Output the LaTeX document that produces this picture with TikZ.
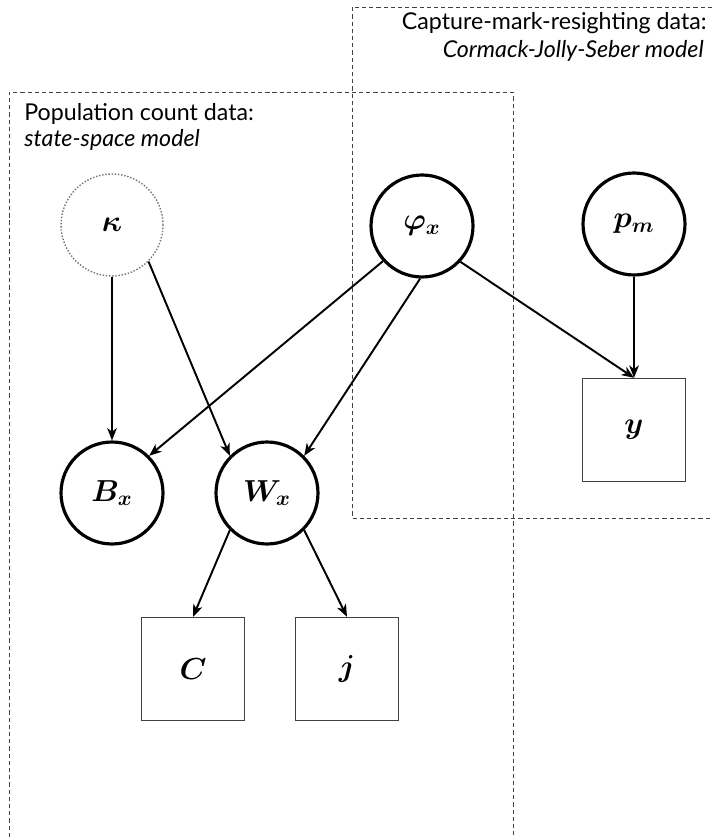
\documentclass[tikz,border=0pt]{standalone}
\usepackage{amsmath, amssymb}
\usepackage{fontspec}
\setmainfont{Lato}
\usepackage{tikz}
\usetikzlibrary{arrows.meta, positioning}

\begin{document}
\begin{tikzpicture}[x=0.02cm, y=-0.02cm, >={Stealth[length=7pt, width=5.5pt, inset=2pt]},
    bien/.style={circle, draw, line width=1.8pt, minimum size=2.04cm, inner sep=0pt,
        font=\fontsize{17.5}{20}\selectfont},
    quansat/.style={rectangle, draw=black!75, line width=0.8pt, minimum size=2.06cm, inner sep=0pt,
        font=\fontsize{17.5}{20}\selectfont},
    khung/.style={draw=black!75, line width=0.55pt, dash pattern=on 2.4pt off 1.7pt},
    nhan/.style={inner sep=0pt, font=\fontsize{13.2}{15}\selectfont},
    mui/.style={->, line width=1.1pt}]
    \useasboundingbox (0,0) rectangle (712,837);

    % 1. Khung nét đứt của hai mô hình
    \draw[khung] (9,837) -- (9,92) -- (513,92) -- (513,837);
    \draw[khung] (712,7) -- (352,7) -- (352,518) -- (712,518);

    % 2. Nhãn của các khung
    \node[nhan, anchor=base west] (popcount) at (24,121) {Population count data:};
    \node[nhan, anchor=base west] (ssm) at (24,147) {\itshape state-space model};
    \node[nhan, anchor=base east] (cmr) at (707,30) {Capture-mark-resighting data:};
    \node[nhan, anchor=base east] (cjs) at (704,58) {\itshape Cormack-Jolly-Seber model};

    % 3. Các tham số (nút tròn)
    \node[bien, draw=black!55, line width=0.8pt, densely dotted] (kappa) at (112,225) {$\boldsymbol{\kappa}$};
    \node[bien] (phi) at (422,226) {$\boldsymbol{\varphi_x}$};
    \node[bien] (pm) at (634,224) {$\boldsymbol{p_m}$};
    \node[bien] (Bx) at (112,493) {$\boldsymbol{B_x}$};
    \node[bien] (Wx) at (267,493) {$\boldsymbol{W_x}$};

    % 4. Dữ liệu quan sát (nút vuông)
    \node[quansat] (C) at (193,669) {$\boldsymbol{C}$};
    \node[quansat] (j) at (347,669) {$\boldsymbol{j}$};
    \node[quansat] (y) at (634,430) {$\boldsymbol{y}$};

    % 5. Các mũi tên phụ thuộc
    \draw[mui] (kappa.south) -- (Bx.north);
    \draw[mui] (kappa.-45) -- (Wx.135);
    \draw[mui] (phi.-138) -- (Bx.45);
    \draw[mui] (phi.-92) -- (Wx.45);
    \draw[mui] (phi.-43) -- (y.north);
    \draw[mui] (pm.south) -- (y.north);
    \draw[mui] (Wx.-135) -- (C.north);
    \draw[mui] (Wx.-45) -- (j.north);
\end{tikzpicture}
\end{document}
